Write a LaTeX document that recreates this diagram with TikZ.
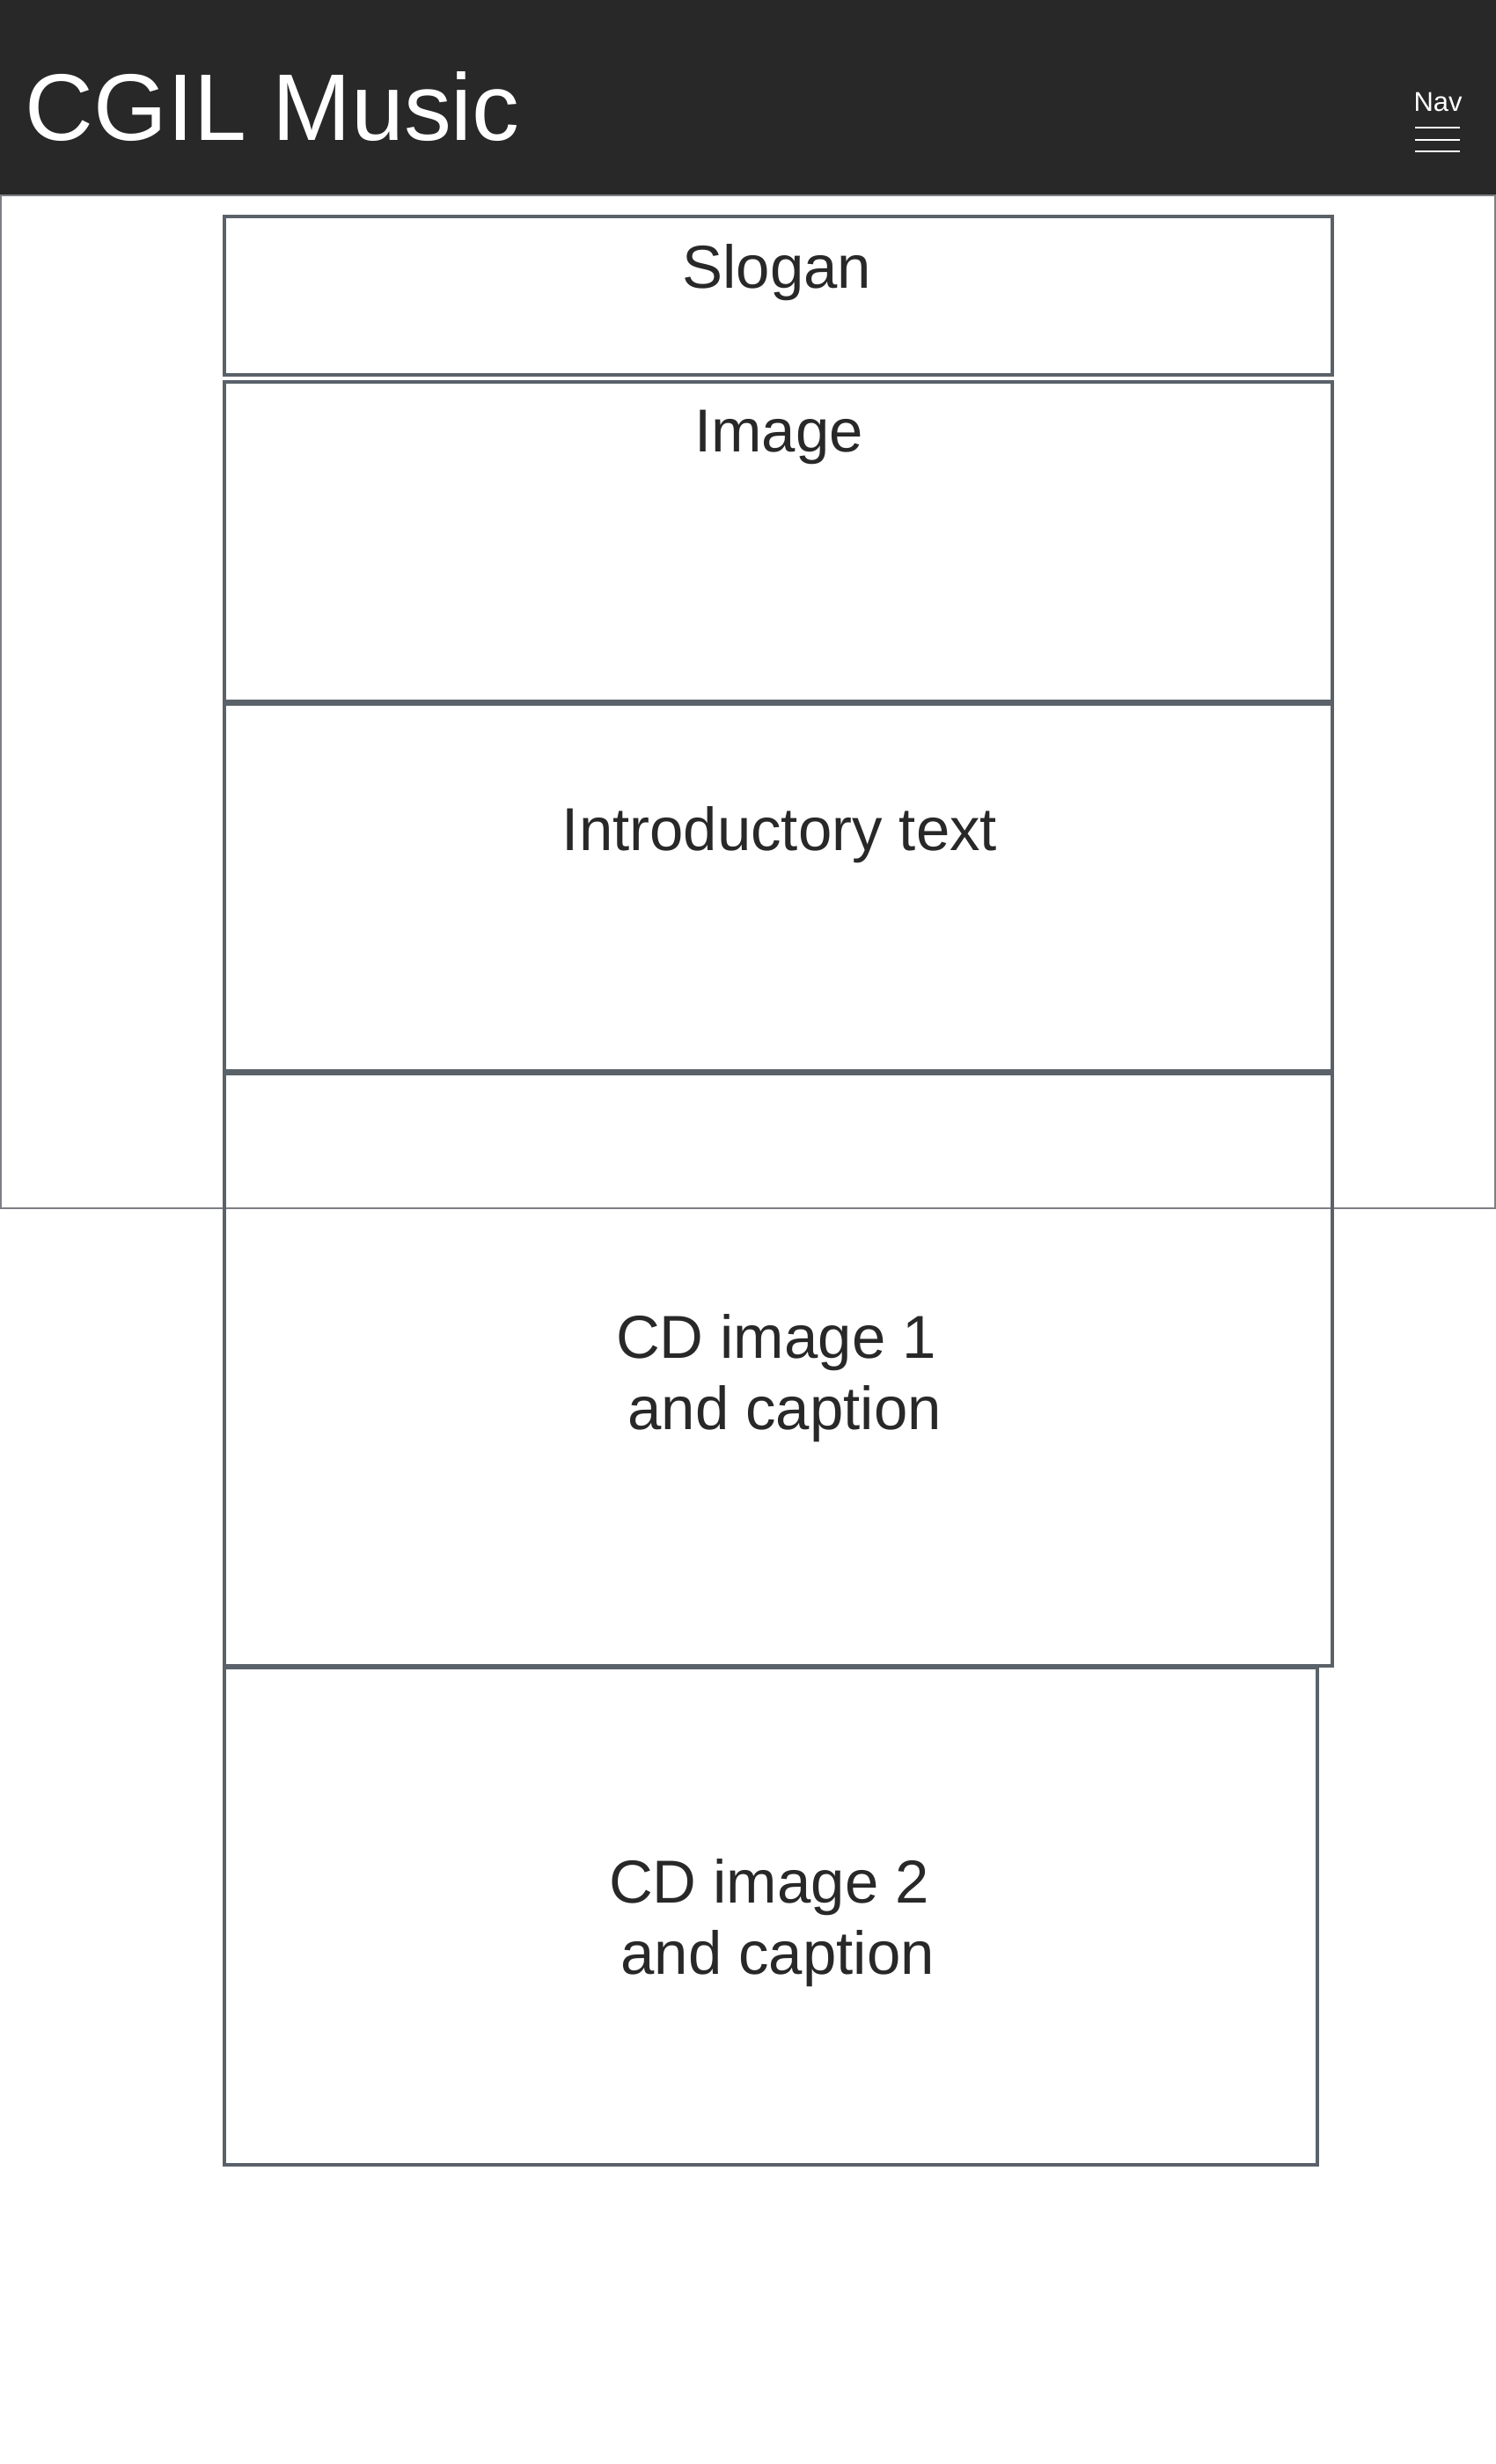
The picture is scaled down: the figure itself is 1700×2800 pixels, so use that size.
\documentclass[tikz,border=0pt]{standalone}
\usepackage{fontspec}
\setmainfont{Liberation Sans}
\usepackage{tikz}
\usetikzlibrary{positioning}
\definecolor{headbg}{HTML}{282828}
\definecolor{boxline}{HTML}{5A6169}
\definecolor{frameline}{HTML}{7C7F85}
\definecolor{ink}{HTML}{282828}

\begin{document}
\begin{tikzpicture}[x=0.01cm,y=-0.01cm,
    block/.style={draw=boxline,line width=1.05pt},
    lbl/.style={inner sep=0pt,anchor=north,text=ink,align=center,font=\fontsize{19.6}{23}\selectfont}]
                \useasboundingbox (0,0) rectangle (1700,2800);
                \fill[headbg] (0,0) rectangle (1700,221);
                \node[inner sep=0pt,anchor=north west,text=white,font=\fontsize{30.6}{36}\selectfont] (title) at (28,81) {CGIL Music};
                \node[inner sep=0pt,anchor=north,text=white,font=\fontsize{8.8}{10}\selectfont] (nav) at (1634,105) {Nav};
                \foreach \y in {145,159,172}
                    \draw[white,line width=0.3pt] (1608,\y) -- (1659,\y);
                \draw[frameline,line width=0.8pt] (1,222) rectangle (1699,1373);
                \draw[block] (255,246) rectangle (1514,426);
                \draw[block] (255,434) rectangle (1514,797);
                \draw[block] (255,800) rectangle (1514,1217);
                \draw[block] (255,1220) rectangle (1514,1893);
                \draw[block] (255,1895) rectangle (1497,2460);
                \node[lbl] (slogan) at (883,277) {Slogan};
                \node[lbl] (image) at (885,465) {Image};
                \node[lbl] (intro) at (886,916) {Introductory text};
                \node[lbl] (cdone) at (882,1493) {CD image 1\\\kern.28em and caption};
                \node[lbl] (cdtwo) at (874,2112) {CD image 2\\\kern.28em and caption};
            \end{tikzpicture}
\end{document}
